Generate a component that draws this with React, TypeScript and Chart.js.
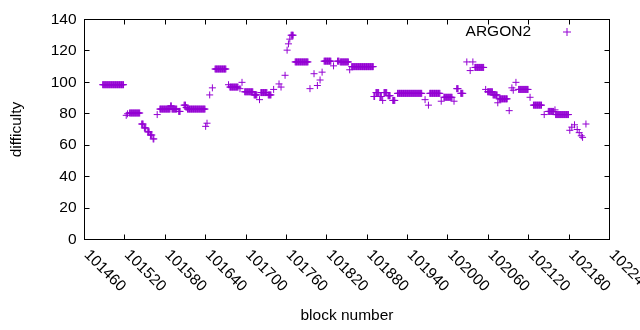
import React, { useEffect, useRef } from 'react';
import { Chart, registerables } from 'chart.js';

Chart.register(...registerables);

// Runs of constant difficulty: first block, last block, difficulty
const runStart = [
  101487, 101522, 101524, 101527, 101545, 101549, 101554, 101558, 101562, 101568,
  101572, 101588, 101590, 101600, 101608, 101611, 101613, 101640, 101642, 101646,
  101650, 101654, 101674, 101676, 101691, 101694, 101698, 101712, 101720, 101722,
  101733, 101741, 101749, 101752, 101758, 101761, 101763, 101765, 101767, 101773,
  101795, 101801, 101806, 101810, 101813, 101816, 101830, 101836, 101840, 101854,
  101857, 101890, 101893, 101899, 101903, 101905, 101911, 101918, 101925, 101966,
  101971, 101973, 101990, 101994, 102009, 102013, 102019, 102028, 102033, 102037,
  102040, 102056, 102059, 102067, 102074, 102076, 102091, 102095, 102097, 102101,
  102105, 102122, 102127, 102143, 102149, 102159, 102160, 102181, 102184, 102188,
  102192, 102195, 102198, 102200, 102205,
];
const runEnd = [
  101518, 101522, 101524, 101542, 101547, 101551, 101556, 101560, 101563, 101568,
  101587, 101589, 101597, 101602, 101610, 101611, 101639, 101640, 101642, 101646,
  101650, 101670, 101674, 101688, 101691, 101694, 101710, 101716, 101720, 101731,
  101737, 101741, 101749, 101752, 101758, 101761, 101763, 101765, 101770, 101792,
  101795, 101801, 101806, 101810, 101813, 101826, 101830, 101838, 101852, 101854,
  101889, 101891, 101897, 101901, 101903, 101909, 101914, 101921, 101961, 101966,
  101971, 101988, 101990, 102006, 102009, 102015, 102022, 102028, 102033, 102037,
  102053, 102056, 102066, 102073, 102074, 102088, 102091, 102095, 102097, 102101,
  102119, 102122, 102139, 102143, 102157, 102159, 102179, 102181, 102184, 102188,
  102192, 102195, 102198, 102200, 102205,
];
const runValue = [
  98.5, 79, 80, 80.5, 73.5, 71, 68.5, 66.5, 64, 79.5,
  83, 85, 83, 81.5, 85.5, 84, 83, 72, 74, 92,
  96.5, 108.5, 98.5, 97, 96, 100, 94, 92, 89, 93.5,
  92, 95.5, 99, 97, 104.5, 120.5, 124.5, 127.5, 130, 113,
  96, 105.5, 98, 101.5, 106.5, 113.5, 110.5, 113.5, 113, 108,
  110, 91, 93.5, 91, 88.5, 93.5, 91.5, 88.5, 93, 89,
  85.5, 93, 88, 90.5, 88, 96, 93, 113, 107.5, 113,
  109.5, 95.5, 94, 92, 87, 89.5, 82, 96.5, 95, 100,
  95.5, 90.5, 85.5, 79.5, 81.5, 82.5, 79.5, 69.5, 71.5, 73,
  70, 68, 66, 65, 73.5,
];

const xTicks = [101460, 101520, 101580, 101640, 101700, 101760, 101820, 101880, 101940, 102000, 102060, 102120, 102180, 102240];
const yTicks = [0, 20, 40, 60, 80, 100, 120, 140];
const seriesName = 'ARGON2';
const xTitle = 'block number';
const yTitle = 'difficulty';
const COLOR = '#9400d3';
const FONT = '15.5px "Liberation Sans", Arial, sans-serif';

const decorPlugin = {
  id: 'decor',
  afterDraw(chart: any) {
    const { ctx, chartArea: a, scales } = chart;
    const xs = scales.x;
    const ys = scales.y;
    const TL = 5;
    ctx.save();
    ctx.strokeStyle = '#000';
    ctx.lineWidth = 1;
    ctx.strokeRect(a.left, a.top, a.right - a.left, a.bottom - a.top);
    ctx.beginPath();
    for (const t of xTicks) {
      const px = Math.floor(xs.getPixelForValue(t)) + 0.5;
      ctx.moveTo(px, a.bottom);
      ctx.lineTo(px, a.bottom - TL);
      ctx.moveTo(px, a.top);
      ctx.lineTo(px, a.top + TL);
    }
    for (const t of yTicks) {
      const py = Math.floor(ys.getPixelForValue(t)) + 0.5;
      ctx.moveTo(a.left, py);
      ctx.lineTo(a.left + TL, py);
      ctx.moveTo(a.right, py);
      ctx.lineTo(a.right - TL, py);
    }
    ctx.stroke();

    ctx.fillStyle = '#000';
    ctx.font = FONT;
    // y tick labels
    ctx.textAlign = 'right';
    ctx.textBaseline = 'middle';
    for (const t of yTicks) {
      ctx.fillText(String(t), a.left - 8, ys.getPixelForValue(t));
    }
    // x tick labels rotated
    for (const t of xTicks) {
      ctx.save();
      ctx.translate(xs.getPixelForValue(t) + 2, a.bottom + 13);
      ctx.rotate(Math.PI / 4);
      ctx.textAlign = 'left';
      ctx.textBaseline = 'middle';
      ctx.fillText(String(t), 0, 0);
      ctx.restore();
    }
    // axis titles
    ctx.textAlign = 'center';
    ctx.textBaseline = 'middle';
    ctx.fillText(xTitle, (a.left + a.right) / 2, 316);
    ctx.save();
    ctx.translate(17, (a.top + a.bottom) / 2);
    ctx.rotate(-Math.PI / 2);
    ctx.fillText(yTitle, 0, 0);
    ctx.restore();
    // legend
    ctx.textAlign = 'right';
    ctx.fillText(seriesName, 531, 32);
    ctx.strokeStyle = COLOR;
    ctx.beginPath();
    ctx.moveTo(563, 32);
    ctx.lineTo(571, 32);
    ctx.moveTo(567, 28);
    ctx.lineTo(567, 36);
    ctx.stroke();
    ctx.restore();
  },
};

export default function App() {
  const ref = useRef<HTMLCanvasElement | null>(null);
  useEffect(() => {
    document.body.style.margin = '0';
    const points: { x: number; y: number }[] = [];
    for (let i = 0; i < runStart.length; i++) {
      for (let b = runStart[i]; b <= runEnd[i]; b++) points.push({ x: b, y: runValue[i] });
    }
    const chart = new Chart(ref.current as HTMLCanvasElement, {
      type: 'scatter',
      data: {
        datasets: [
          {
            label: seriesName,
            data: points,
            pointStyle: 'cross',
            pointRadius: 3.5,
            borderColor: COLOR,
            backgroundColor: COLOR,
            borderWidth: 1,
          },
        ],
      },
      options: {
        responsive: false,
        animation: false,
        layout: { padding: { top: 19.5, right: 30.5, left: 0, bottom: 0 } },
        plugins: { legend: { display: false }, tooltip: { enabled: false } },
        scales: {
          x: {
            type: 'linear',
            min: 101460,
            max: 102240,
            ticks: { display: false, stepSize: 60 },
            grid: { display: false },
            border: { display: false },
            afterFit: (s: any) => { s.height = 90.5; },
          },
          y: {
            type: 'linear',
            min: 0,
            max: 140,
            ticks: { display: false, stepSize: 20 },
            grid: { display: false },
            border: { display: false },
            afterFit: (s: any) => { s.width = 84.5; },
          },
        },
      },
      plugins: [decorPlugin],
    });
    return () => chart.destroy();
  }, []);
  return (
    <div style={{ width: 640, height: 330, background: '#fff' }}>
      <canvas ref={ref} width={640} height={330} />
    </div>
  );
}
